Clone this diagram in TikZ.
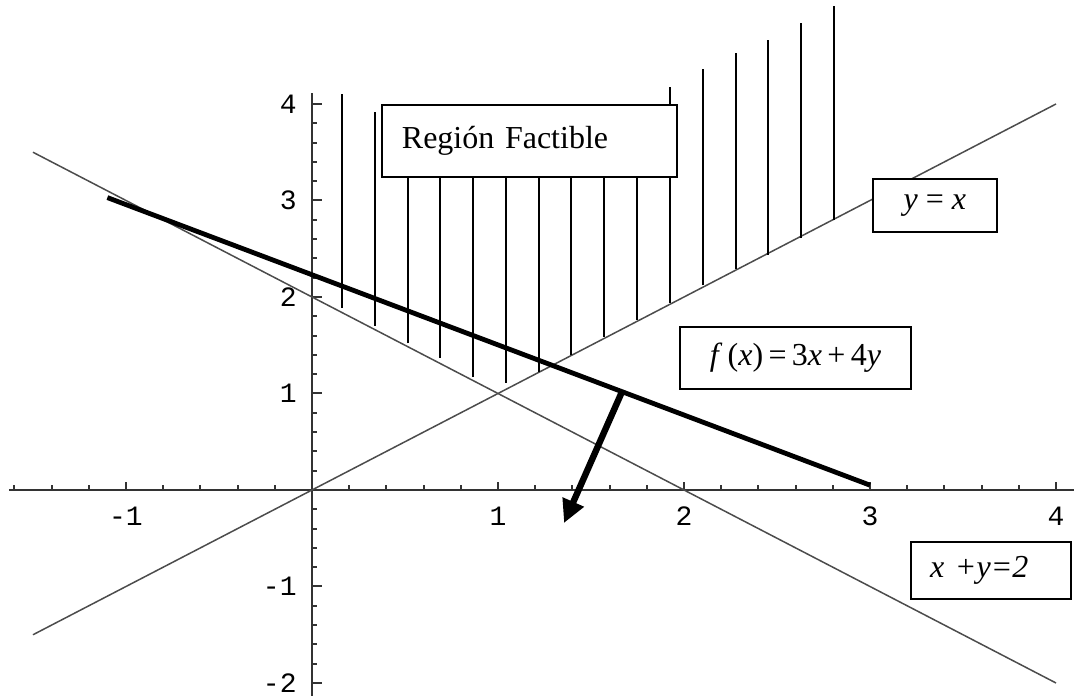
\documentclass[tikz,border=0pt]{standalone}
\usepackage{fontspec}
\setmainfont{Liberation Serif}
\setmonofont{Liberation Mono}
\usetikzlibrary{arrows.meta, positioning, calc}

\tikzset{
  eje/.style={black!80, line width=1.2pt},
  recta/.style={black!70, line width=0.75pt},
  rayado/.style={black, line width=1pt},
  caja/.style={draw=black, line width=1pt, fill=white, inner sep=0pt, font=\fontsize{16}{19}\selectfont},
  marca/.style={inner sep=0pt, font=\ttfamily\fontsize{14}{16}\selectfont},
}

\begin{document}
\begin{tikzpicture}[x=93pt, y=48.25pt]
  \useasboundingbox (-1.6774,-2.1244) rectangle (4.0968,5.0777);

  % Ejes
  \draw[eje] (-1.63,0) -- (4.1,0);
  \draw[eje] (0,-2.13) -- (0,4.11);

  % Marcas
  \foreach \i in {-8,...,-1,1,2,...,20}
    \draw[eje, line width=1pt] (\i/5,0) -- ++(0,2.5pt);
  \foreach \i in {-10,...,-1,1,2,...,20}
    \draw[eje, line width=1pt] (0,\i/5) -- ++(2.5pt,0);
  \foreach \n in {-1,1,2,3,4}
    \draw[eje, line width=1pt] (\n,0) -- ++(0,4pt);
  \foreach \n in {-2,-1,1,2,3,4}
    \draw[eje, line width=1pt] (0,\n) -- ++(5pt,0);

  % Numeros
  \foreach \n/\nom in {-1/m1,1/p1,2/p2,3/p3,4/p4}
    \node[marca, yshift=-13.25pt] (tx\nom) at (\n,0) {\n};
  \foreach \n/\nom in {-2/m2,-1/m1,1/p1,2/p2,3/p3,4/p4}
    \node[marca, anchor=east, xshift=-7.5pt] (ty\nom) at (0,\n) {\n};

  % Restricciones
  \draw[recta] (-1.5,-1.5) -- (4,4);
  \draw[recta] (-1.5,3.5) -- (4,-2);

  % Rayado de la region
  \foreach \x/\yb/\yt in {0.161/1.89/4.10, 0.337/1.70/3.92, 0.514/1.52/3.99,
      0.690/1.37/3.99, 0.866/1.17/3.99, 1.043/1.11/3.99, 1.219/1.22/3.99,
      1.395/1.40/3.99, 1.572/1.59/3.99, 1.748/1.76/3.99, 1.924/1.94/4.18,
      2.100/2.12/4.36, 2.277/2.29/4.53, 2.453/2.44/4.66, 2.629/2.61/4.84,
      2.806/2.80/5.02}
    \draw[rayado] (\x,\yb) -- (\x,\yt);

  % Recta de nivel y direccion
  \draw[black, line width=2.4pt] (-1.1,3.03) -- (3.0,0.05);
  \coordinate (pie) at (1.667,1.02);
  \coordinate (punta) at (1.355,-0.342);
  \draw[black, line width=3.2pt, -{Triangle[length=11.5pt, width=11pt]}] (pie) -- (punta);

  % Etiquetas
  \node[caja, text width=127.5pt, inner xsep=10pt, minimum height=36pt, align=left]
    (region) at (1.169,3.617) {Región Factible};
  \node[caja, minimum width=62pt, minimum height=26.5pt] (diag) at (3.349,2.948)
    {\textit{y} = \textit{x}};
  \node[caja, minimum width=115.5pt, minimum height=31pt] (obj) at (2.599,1.368)
    {\textit{f}\,(\textit{x})\,=\,3\textit{x}\,+\,4\textit{y}};
  \node[caja, text width=61pt, inner xsep=9.5pt, minimum height=28.5pt, align=left]
    (suma) at (3.651,-0.834) {\textit{x +y=2}};
\end{tikzpicture}
\end{document}
